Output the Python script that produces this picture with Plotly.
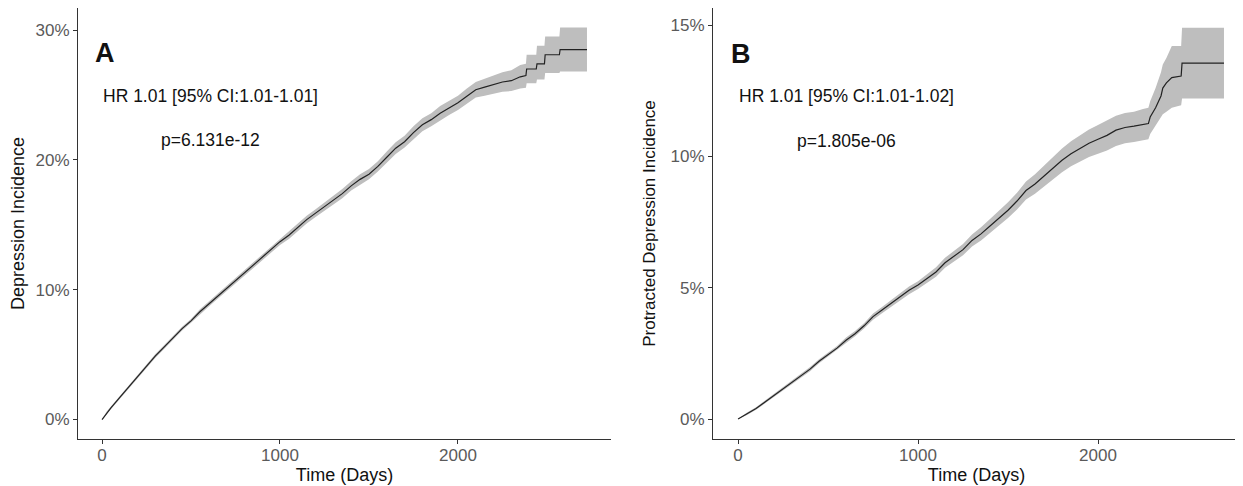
import plotly.graph_objects as go
from plotly.subplots import make_subplots

# Panel A: cumulative depression incidence (%)
days_a = [0, 25, 50, 100, 150, 200, 250, 300, 350, 400, 450, 500, 550, 600, 650, 700, 750, 800,
          850, 900, 950, 1000, 1050, 1100, 1150, 1200, 1250, 1300, 1350, 1400, 1450, 1500, 1550,
          1600, 1650, 1700, 1750, 1800, 1850, 1900, 1950, 2000, 2050, 2100, 2150, 2200, 2250,
          2300, 2350, 2382, 2386, 2440, 2444, 2486, 2490, 2570, 2574, 2725]
inc_a = [0, 0.5, 0.9, 1.7, 2.5, 3.3, 4.1, 4.9, 5.6, 6.3, 7.0, 7.6, 8.3, 8.9, 9.5, 10.1, 10.7, 11.3,
         11.9, 12.5, 13.1, 13.7, 14.2, 14.8, 15.4, 15.9, 16.4, 16.9, 17.4, 18.0, 18.5, 18.9, 19.5,
         20.2, 20.9, 21.4, 22.1, 22.7, 23.1, 23.6, 24.0, 24.4, 24.9, 25.4, 25.6, 25.8, 26.0,
         26.1, 26.4, 26.5, 27.0, 27.0, 27.4, 27.4, 28.1, 28.1, 28.5, 28.5]
lo_a = [0, 0.4, 0.8, 1.6, 2.4, 3.2, 4.0, 4.75, 5.45, 6.15, 6.85, 7.45, 8.1, 8.7, 9.3, 9.9, 10.45, 11.05,
        11.65, 12.25, 12.85, 13.45, 13.9, 14.5, 15.1, 15.6, 16.1, 16.55, 17.05, 17.65, 18.1, 18.5, 19.1,
        19.75, 20.45, 20.95, 21.6, 22.2, 22.6, 23.05, 23.45, 23.85, 24.3, 24.8, 24.95, 25.1, 25.25,
        25.3, 25.5, 25.55, 25.9, 25.9, 26.2, 26.2, 26.7, 26.7, 26.8, 26.8]
hi_a = [0, 0.6, 1.0, 1.8, 2.6, 3.4, 4.2, 5.05, 5.75, 6.45, 7.15, 7.75, 8.5, 9.1, 9.7, 10.3, 10.95, 11.55,
        12.15, 12.75, 13.35, 13.95, 14.5, 15.1, 15.7, 16.2, 16.7, 17.25, 17.75, 18.35, 18.9, 19.3, 19.9,
        20.65, 21.35, 21.85, 22.6, 23.2, 23.6, 24.15, 24.55, 24.95, 25.5, 26.0, 26.25, 26.5, 26.75,
        26.9, 27.3, 27.4, 28.1, 28.1, 28.8, 28.8, 29.5, 29.5, 30.2, 30.2]

# Panel B: cumulative protracted depression incidence (%)
days_b = [0, 50, 100, 150, 200, 250, 300, 350, 400, 450, 500, 550, 600, 650, 700, 750, 800, 850,
          900, 950, 1000, 1050, 1100, 1150, 1200, 1250, 1300, 1350, 1400, 1450, 1500, 1550, 1600,
          1650, 1700, 1750, 1800, 1850, 1900, 1950, 2000, 2050, 2100, 2150, 2200, 2250, 2280, 2290,
          2320, 2350, 2360, 2380, 2410, 2462, 2467, 2700]
inc_b = [0, 0.2, 0.4, 0.65, 0.9, 1.15, 1.4, 1.65, 1.9, 2.2, 2.45, 2.7, 3.0, 3.25, 3.55, 3.9, 4.15, 4.4,
         4.65, 4.9, 5.1, 5.35, 5.6, 5.95, 6.2, 6.45, 6.8, 7.05, 7.35, 7.65, 7.95, 8.3, 8.7,
         8.95, 9.25, 9.55, 9.85, 10.1, 10.3, 10.5, 10.65, 10.8, 11.0, 11.1, 11.15, 11.2, 11.25, 11.5,
         11.85, 12.3, 12.6, 12.8, 13.0, 13.06, 13.55, 13.55]
lo_b = [0, 0.15, 0.35, 0.6, 0.85, 1.1, 1.35, 1.6, 1.82, 2.12, 2.37, 2.62, 2.9, 3.15, 3.45, 3.78, 4.03, 4.27,
        4.5, 4.75, 4.95, 5.18, 5.42, 5.76, 6.0, 6.24, 6.57, 6.8, 7.08, 7.37, 7.65, 7.98, 8.36,
        8.58, 8.86, 9.13, 9.4, 9.62, 9.8, 9.98, 10.1, 10.22, 10.4, 10.5, 10.55, 10.6, 10.65, 10.85,
        11.15, 11.45, 11.6, 11.7, 11.85, 11.95, 12.2, 12.2]
hi_b = [0, 0.25, 0.45, 0.7, 0.95, 1.2, 1.45, 1.7, 1.98, 2.28, 2.53, 2.78, 3.1, 3.35, 3.65, 4.02, 4.27, 4.53,
        4.8, 5.05, 5.25, 5.52, 5.78, 6.14, 6.4, 6.66, 7.03, 7.3, 7.62, 7.93, 8.25, 8.62, 9.04,
        9.32, 9.64, 9.97, 10.3, 10.58, 10.8, 11.02, 11.2, 11.38, 11.55, 11.65, 11.7, 11.8, 11.85, 12.1,
        12.6, 13.2, 13.5, 13.75, 14.2, 14.2, 14.9, 14.9]

y_ticks_a = [0, 10, 20, 30]
y_ticks_b = [0, 5, 10, 15]
x_ticks = [0, 1000, 2000]

FONT = "Liberation Sans, Arial, sans-serif"
RIBBON = "#BEBEBE"
LINE = "#222222"

fig = make_subplots(rows=1, cols=2, horizontal_spacing=0.0)

def add_panel(col, t, v, lo, hi):
    fig.add_trace(go.Scatter(x=t, y=lo, mode="lines", line=dict(width=0),
                             hoverinfo="skip", showlegend=False), row=1, col=col)
    fig.add_trace(go.Scatter(x=t, y=hi, mode="lines", line=dict(width=0),
                             fill="tonexty", fillcolor=RIBBON, hoverinfo="skip",
                             showlegend=False), row=1, col=col)
    fig.add_trace(go.Scatter(x=t, y=v, mode="lines", line=dict(color=LINE, width=1.2),
                             showlegend=False), row=1, col=col)

add_panel(1, days_a, inc_a, lo_a, hi_a)
add_panel(2, days_b, inc_b, lo_b, hi_b)

axis_common = dict(showgrid=False, zeroline=False, showline=True, linecolor="#333333", linewidth=1,
                   ticks="outside", ticklen=4, tickcolor="#333333",
                   tickfont=dict(family=FONT, size=17, color="#5a5a5a"),
                   title_font=dict(family=FONT, size=18, color="#111111"))

fig.update_xaxes(**axis_common)
fig.update_yaxes(**axis_common)

fig.update_xaxes(domain=[0.0, 0.4587], range=[-135, 2860], tickvals=x_ticks, ticklabelstandoff=-3,
                 title_text="Time (Days)", title_standoff=1, row=1, col=1)
fig.update_xaxes(domain=[0.5465, 1.0], range=[-139, 2789], tickvals=x_ticks, ticklabelstandoff=-3,
                 title_text="Time (Days)", title_standoff=1, row=1, col=2)
fig.update_yaxes(range=[-1.5, 31.7], tickvals=y_ticks_a, ticktext=[f"{v}%" for v in y_ticks_a],
                 title_text="Depression Incidence", title_standoff=6, row=1, col=1)
fig.update_yaxes(range=[-0.76, 15.65], tickvals=y_ticks_b, ticktext=[f"{v}%" for v in y_ticks_b],
                 title_text="Protracted Depression Incidence", title_standoff=10,
                 title_font=dict(family=FONT, size=17, color="#111111"), row=1, col=2)

ann = [
    dict(x=17, y=28.2, xref="x", yref="y", text="<b>A</b>", font=dict(size=27)),
    dict(x=612, y=24.9, xref="x", yref="y", text="HR 1.01 [95% CI:1.01-1.01]", font=dict(size=17.5)),
    dict(x=612, y=21.5, xref="x", yref="y", text="p=6.131e-12", font=dict(size=17.5)),
    dict(x=17, y=13.9, xref="x2", yref="y2", text="<b>B</b>", font=dict(size=27)),
    dict(x=605, y=12.3, xref="x2", yref="y2", text="HR 1.01 [95% CI:1.01-1.02]", font=dict(size=17.5)),
    dict(x=605, y=10.6, xref="x2", yref="y2", text="p=1.805e-06", font=dict(size=17.5)),
]
for a in ann:
    a["showarrow"] = False
    a["font"] = dict(family=FONT, color="#111111", **a["font"])
    fig.add_annotation(**a)

# page body has an 8px margin: figure is offset by (8, 8)
fig.update_layout(width=1235, height=478, plot_bgcolor="white", paper_bgcolor="white",
                  margin=dict(l=70, r=3, t=0, b=47, autoexpand=False), font=dict(family=FONT))

fig.write_html("out.html")
